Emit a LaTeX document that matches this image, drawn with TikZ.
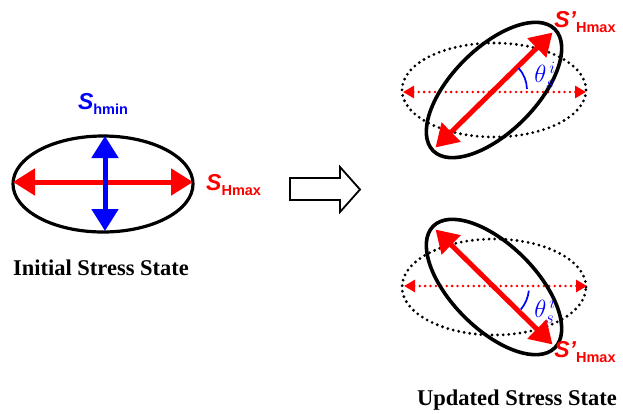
\documentclass[tikz,border=0pt]{standalone}
\usepackage{fontspec}
\setmainfont{Liberation Serif}
\setsansfont{Liberation Sans}
\usetikzlibrary{arrows.meta}
% stress symbol: italic S with an upright subscript
\newcommand{\stresssym}[2]{\sffamily\bfseries\fontsize{23}{23}\selectfont\itshape #1\raisebox{-4.5pt}{\fontsize{14.5}{14.5}\selectfont\upshape #2}}
\begin{document}
\begin{tikzpicture}[x=1pt,y=-1pt,
  ell/.style={draw=black, line width=3.2pt},
  dotell/.style={draw=black, line width=3.1pt, line cap=round, dash pattern=on 0pt off 5.6pt},
  bigarrow/.style={line width=5pt, {Triangle[length=22pt,width=26pt]}-{Triangle[length=22pt,width=26pt]}},
  dotarrow/.style={draw=red, line width=2.8pt, line cap=round, dash pattern=on 0pt off 5.4pt,
    {Triangle[length=11pt,width=12pt,line cap=butt]}-{Triangle[length=11pt,width=12pt,line cap=butt]}},
  anglearc/.style={draw=blue, line width=1.7pt},
  caption/.style={font=\bfseries\fontsize{22.5}{22.5}\selectfont, inner sep=0pt},
  lbl/.style={inner sep=0pt},
  anglelbl/.style={inner sep=0pt, text=blue, font=\fontsize{25}{25}\selectfont}
]
\useasboundingbox (0,0) rectangle (623,413);

% ---------- initial stress state ----------
\coordinate (c0) at (103,184);
\draw[ell] (c0) ellipse [x radius=90pt, y radius=48pt];
\coordinate (h0l) at (13,182);
\coordinate (h0r) at (193,182);
\coordinate (v0t) at (105,136);
\coordinate (v0b) at (105,231);
\draw[bigarrow, draw=red, fill=red] (h0l) -- (h0r);
\draw[bigarrow, draw=blue, fill=blue] (v0t) -- (v0b);
\node[lbl, text=blue] (shmin) at (103,104) {\stresssym{S}{hmin}};
\node[lbl, text=red, anchor=west] (sHmax) at (206,185) {\stresssym{S}{Hmax}};
\node[caption] (initcap) at (101,268) {Initial Stress State};

% ---------- transition arrow ----------
\coordinate (tr) at (290,178);
\draw[line width=1.8pt, line join=miter] (tr) -- ++(50,0) -- ++(0,-11) -- (360,189.5) -- (340,212) -- ++(0,-12) -- ++(-50,0) -- cycle;

% ---------- updated state: clockwise-rotated principal axis ----------
\coordinate (c1) at (494,90);
\draw[dotell] (c1) ellipse [x radius=92pt, y radius=47pt];
\coordinate (d1l) at (403,92);
\coordinate (d1r) at (586,92);
\draw[dotarrow] (d1l) -- (d1r);
\draw[ell, line width=3.6pt, rotate around={45:(c1)}] (c1) ellipse [x radius=86pt, y radius=42pt];
\coordinate (a1t) at ([shift={(44.5:82pt)}]c1);
\coordinate (a1b) at ([shift={(224.5:82pt)}]c1);
\draw[bigarrow, draw=red, fill=red] (a1b) -- (a1t);
\draw[anglearc] ([shift={(42:33pt)}]c1) arc[start angle=42, end angle=2, radius=33pt];
\node[anglelbl] (th1) at (545,75) {$\theta_s^{\,i}$};
\node[lbl, text=red] (sH1) at (585,22) {\stresssym{S'}{Hmax}};

% ---------- updated state: counter-clockwise-rotated principal axis ----------
\coordinate (c2) at (494,287);
\draw[dotell] (c2) ellipse [x radius=92pt, y radius=48pt];
\coordinate (d2l) at (404,286);
\coordinate (d2r) at (587,286);
\draw[dotarrow] (d2l) -- (d2r);
\draw[ell, line width=3.6pt, rotate around={-45:(c2)}] (c2) ellipse [x radius=86pt, y radius=42pt];
\coordinate (a2t) at ([shift={(135.5:82pt)}]c2);
\coordinate (a2b) at ([shift={(-44.5:82pt)}]c2);
\draw[bigarrow, draw=red, fill=red] (a2t) -- (a2b);
\draw[anglearc] ([shift={(-6:35pt)}]c2) arc[start angle=-6, end angle=-40, radius=35pt];
\node[anglelbl] (th2) at (545,310) {$\theta_s^{\,i}$};
\node[lbl, text=red] (sH2) at (585,352) {\stresssym{S'}{Hmax}};

\node[caption] (updcap) at (517,400) {Updated Stress State};
\end{tikzpicture}
\end{document}
